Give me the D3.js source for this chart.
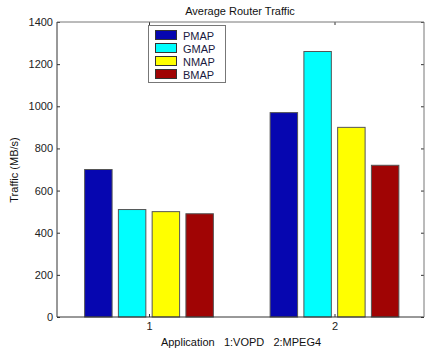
<!DOCTYPE html>
<html>
<head>
<meta charset="utf-8">
<script src="https://cdn.jsdelivr.net/npm/d3@7"></script>
<style>
  body { margin: 0; background: #fff; }
  text { font-family: "Liberation Sans", Arial, sans-serif; }
</style>
</head>
<body>
<svg id="grafico" width="425" height="355"></svg>
<script>
// datos
const aplicaciones = [1, 2]
const series = ["PMAP", "GMAP", "NMAP", "BMAP"]
const pmap = [700, 970]
const gmap = [510, 1260]
const nmap = [500, 900]
const bmap = [490, 720]
const ticks_y = [0, 200, 400, 600, 800, 1000, 1200, 1400]
const colores = ["#0606b0", "#00ffff", "#ffff00", "#a00404"]

const valores = [pmap, gmap, nmap, bmap]

// caja del grafico
const izq = 57, der = 424, arriba = 22, abajo = 317

const svg = d3.select("#grafico")

const y = d3.scaleLinear().domain([0, 1400]).range([abajo, arriba])
const x = d3.scaleLinear().domain([1, 2]).range([149, 334.5])

// separacion entre barras dentro de un grupo (en unidades del eje x)
const paso = 0.182
const ancho_barra = 0.148

// barras
series.forEach(function (s, k) {
  svg.append("g").selectAll("rect")
    .data(aplicaciones)
    .enter().append("rect")
    .attr("x", (d) => x(d + (k - 1.5) * paso - ancho_barra / 2))
    .attr("width", x(1 + ancho_barra) - x(1))
    .attr("y", (d, i) => y(valores[k][i]))
    .attr("height", (d, i) => y(0) - y(valores[k][i]))
    .style("fill", colores[k])
    .style("stroke", "#555")
    .style("stroke-width", 1)
})

// ejes con marcas hacia dentro, como en matlab
const ejeIzq = d3.axisLeft(y).tickValues(ticks_y).tickSize(-3).tickPadding(4).tickFormat(d3.format("d"))
const ejeDer = d3.axisRight(y).tickValues(ticks_y).tickSize(-3).tickFormat("")
const ejeAbajo = d3.axisBottom(x).tickValues(aplicaciones).tickSize(-3).tickPadding(5).tickFormat(d3.format("d"))
const ejeArriba = d3.axisTop(x).tickValues(aplicaciones).tickSize(-3).tickFormat("")

function estilo(g) {
  g.select(".domain").remove()
  g.selectAll("line").attr("stroke", "#333")
  g.selectAll("text").attr("fill", "#222").style("font-size", "11px")
}

svg.append("g").attr("transform", `translate(${izq},0)`).call(ejeIzq).call(estilo)
svg.append("g").attr("transform", `translate(${der},0)`).call(ejeDer).call(estilo)
svg.append("g").attr("transform", `translate(0,${abajo})`).call(ejeAbajo).call(estilo)
svg.append("g").attr("transform", `translate(0,${arriba})`).call(ejeArriba).call(estilo)

// bordes de la caja
svg.append("line").attr("x1", izq).attr("x2", der).attr("y1", abajo).attr("y2", abajo).attr("stroke", "#333")
svg.append("line").attr("x1", izq).attr("x2", izq).attr("y1", arriba).attr("y2", abajo).attr("stroke", "#333")
svg.append("line").attr("x1", izq).attr("x2", der).attr("y1", arriba).attr("y2", arriba).attr("stroke", "#777")
svg.append("line").attr("x1", der).attr("x2", der).attr("y1", arriba).attr("y2", abajo).attr("stroke", "#777")

// titulos
svg.append("text").attr("x", 240).attr("y", 15).attr("text-anchor", "middle")
  .style("font-size", "11px").attr("fill", "#111").text("Average Router Traffic")
svg.append("text").attr("x", 241).attr("y", 346).attr("text-anchor", "middle")
  .style("font-size", "11px").attr("fill", "#111").attr("xml:space", "preserve")
  .text("Application   1:VOPD   2:MPEG4")
svg.append("text").attr("transform", "translate(18,170) rotate(-90)").attr("text-anchor", "middle")
  .style("font-size", "11px").attr("fill", "#111").text("Traffic (MB/s)")

// leyenda
const leyenda = svg.append("g")
leyenda.append("rect").attr("x", 148.5).attr("y", 25.5).attr("width", 77).attr("height", 57)
  .style("fill", "#fff").style("stroke", "#777")
series.forEach(function (s, k) {
  leyenda.append("rect").attr("x", 155.5).attr("y", 30.5 + k * 13).attr("width", 21).attr("height", 9)
    .style("fill", colores[k]).style("stroke", "#333")
  leyenda.append("text").attr("x", 183).attr("y", 39.5 + k * 13)
    .style("font-size", "11px").attr("fill", "#1a1a40").text(s)
})
</script>
</body>
</html>
